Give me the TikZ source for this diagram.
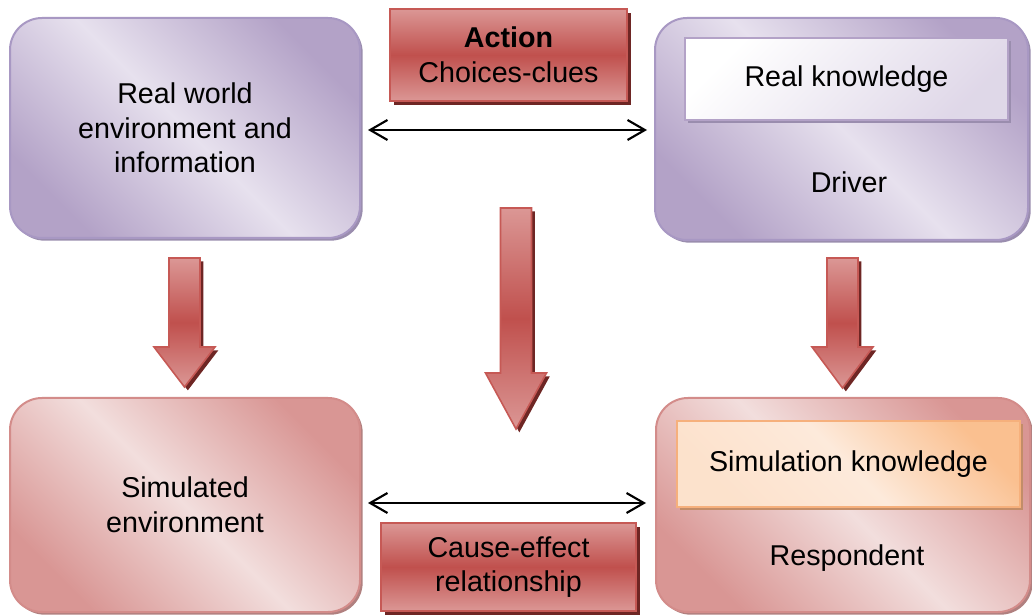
\documentclass[tikz,border=0pt]{standalone}
\usepackage{fontspec}
\setmainfont{Liberation Sans}
\usetikzlibrary{positioning, shadows, arrows.meta, calc}
\definecolor{purpleL}{HTML}{E7E1EE}
\definecolor{purpleD}{HTML}{B3A2C7}
\definecolor{purpleB}{HTML}{A898C3}
\definecolor{purpleS}{HTML}{9A8DAE}
\definecolor{pinkL}{HTML}{F2DEDD}
\definecolor{pinkD}{HTML}{D99694}
\definecolor{pinkB}{HTML}{D38C8A}
\definecolor{pinkS}{HTML}{B0807F}
\definecolor{redL}{HTML}{DB9795}
\definecolor{redD}{HTML}{C0504D}
\definecolor{redB}{HTML}{C65955}
\definecolor{redS}{HTML}{6E2624}
\definecolor{orangeL}{HTML}{FDEADB}
\definecolor{orangeD}{HTML}{FAC090}
\definecolor{orangeB}{HTML}{F6B07C}
\definecolor{orangeS}{HTML}{C38D68}
% x, top, head start, tip (all in px)
\newcommand{\BlockArrow}[4]{%
  \path[blockarrow] (#1-15.5,#2) -- (#1+15.5,#2) -- (#1+15.5,#3) -- (#1+30.5,#3)
    -- (#1,#4) -- (#1-30.5,#3) -- (#1-15.5,#3) -- cycle;}
\tikzset{
    bigbox/.style={rounded corners=24pt, line width=1.5pt, minimum width=262.5pt,
      minimum height=165pt, align=center},
    purplebox/.style={bigbox, draw=purpleB, left color=purpleD, right color=purpleD,
      middle color=purpleL, shading angle=135,
      drop shadow={shadow xshift=2pt, shadow yshift=-2pt, fill=purpleS, opacity=1}},
    pinkbox/.style={bigbox, draw=pinkB, left color=pinkD, right color=pinkD,
      middle color=pinkL, shading angle=135,
      drop shadow={shadow xshift=2pt, shadow yshift=-2pt, fill=pinkS, opacity=1}},
    redbox/.style={draw=redB, line width=1.5pt, top color=redL, bottom color=redL,
      middle color=redD, align=center,
      drop shadow={shadow xshift=3pt, shadow yshift=-3pt, fill=redS, opacity=1}},
    blockarrow/.style={draw=redB, line width=1.2pt, top color=redL, bottom color=redL,
      middle color=redD,
      drop shadow={shadow xshift=2.5pt, shadow yshift=-2.5pt, fill=redS, opacity=1}},
    biarrow/.style={line width=1.6pt, >={Straight Barb[length=13pt,width=15pt]}, <->},
}

\begin{document}
\begin{tikzpicture}[x=0.75pt, y=-0.75pt, font=\fontsize{21.5pt}{26pt}\selectfont]
    \useasboundingbox (0,0) rectangle (1032,616);

    % four main boxes
    \node[purplebox] (rw) at (185,128) {Real world\\environment and\\information};
    \node[purplebox, minimum width=279.75pt, minimum height=166.5pt] (drv) at (841.5,129) {};
    \node[pinkbox, minimum height=160.5pt] (sim) at (185,505) {Simulated\\environment};
    \node[pinkbox, minimum width=280.5pt, minimum height=160.5pt] (rsp) at (843,505) {};

    % inner boxes
    \node[draw=purpleD, line width=1.5pt, left color=white, right color=purpleL!85!purpleD,
      shading angle=45, minimum width=242.25pt, minimum height=61.5pt,
      drop shadow={shadow xshift=2.5pt, shadow yshift=-2.5pt, fill=purpleS, opacity=1}]
      (rk) at (846.5,79) {Real knowledge};
    \node (drvtext) at (849,182) {Driver};
    \node[draw=orangeB, line width=1.5pt, left color=orangeL!80!orangeD, right color=orangeD,
      middle color=orangeL, shading angle=135, minimum width=257.25pt, minimum height=64.5pt,
      drop shadow={shadow xshift=2.5pt, shadow yshift=-2.5pt, fill=orangeS, opacity=1}]
      (sk) at (848.5,464) {Simulation knowledge};
    \node (rsptext) at (847,558) {Respondent};

    % labels
    \node[redbox, minimum width=177.75pt, minimum height=69pt] (act) at (508.5,55)
      {\textbf{Action}\\Choices-clues};
    \node[redbox, minimum width=191.25pt, minimum height=66pt] (ce) at (508.5,567)
      {Cause-effect\\relationship};

    % connectors
    \draw[biarrow] ($(rw.east)+(7,2)$) -- ($(drv.west)+(-7,1)$);
    \draw[biarrow] ($(sim.east)+(7,-2)$) -- ($(rsp.west)+(-9,-2)$);

    \BlockArrow{184.5}{258}{347}{387}
    \BlockArrow{516}{208}{373}{429}
    \BlockArrow{842.5}{258}{347}{388}
\end{tikzpicture}
\end{document}
